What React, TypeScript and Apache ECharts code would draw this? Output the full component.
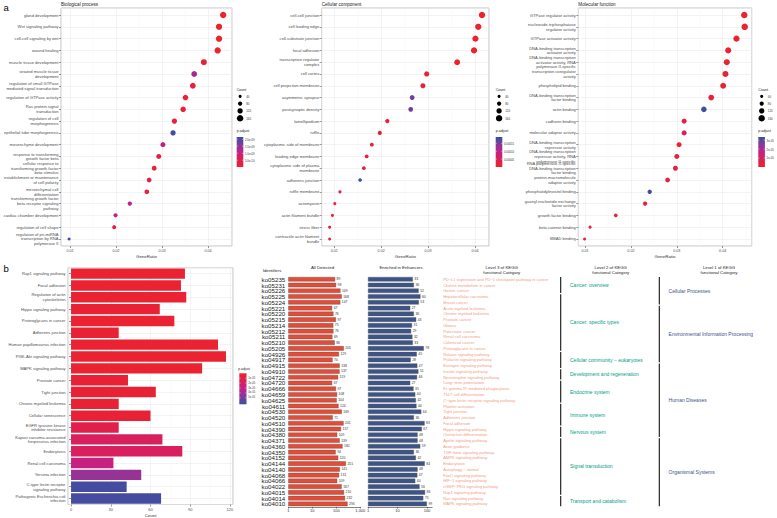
import React, { useEffect, useRef } from "react";
import * as echarts from "echarts";

const FONT = '"Liberation Sans", Arial, Helvetica, sans-serif';
const RAMP = ["#EE2229", "#DB2055", "#C2208A", "#863A99", "#3650A1"];

// ---------------- panel a : GO enrichment ----------------
const bpTerms = [
  "gland development",
  "Wnt signaling pathway",
  "cell-cell signaling by wnt",
  "wound healing",
  "muscle tissue development",
  "striated muscle tissue\ndevelopment",
  "regulation of small GTPase\nmediated signal transduction",
  "regulation of GTPase activity",
  "Ras protein signal\ntransduction",
  "regulation of cell\nmorphogenesis",
  "epithelial tube morphogenesis",
  "mesenchyme development",
  "response to transforming\ngrowth factor beta",
  "cellular response to\ntransforming growth factor\nbeta stimulus",
  "establishment or maintenance\nof cell polarity",
  "mesenchymal cell\ndifferentiation",
  "transforming growth factor\nbeta receptor signaling\npathway",
  "cardiac chamber development",
  "regulation of cell shape",
  "regulation of pri-miRNA\ntranscription by RNA\npolymerase II",
];
const bpRatio = [0.0433, 0.0424, 0.0424, 0.0421, 0.0391, 0.037, 0.0367, 0.0351, 0.0346, 0.0327, 0.0324, 0.0302, 0.0293, 0.0283, 0.0272, 0.0267, 0.023, 0.0199, 0.0196, 0.0098];
const bpCount = [158, 155, 155, 154, 143, 135, 134, 128, 126, 119, 118, 110, 107, 103, 99, 97, 84, 73, 72, 36];
const bpPadj = [5e-11, 5e-11, 6e-11, 1e-10, 2e-10, 1.3e-9, 2.5e-10, 1.5e-10, 2e-10, 3e-10, 2.1e-9, 1.1e-9, 3e-10, 2.5e-10, 3e-10, 3e-10, 1.05e-9, 1.08e-9, 4.5e-10, 2.1e-9];
const bpRange = [2e-11, 2.16e-9];
const bpLegendTicks = [2.0e-9, 1.5e-9, 1.0e-9, 5.0e-10];
const bpLegendLabels = ["2.0e-09", "1.5e-09", "1.0e-09", "5.0e-10"];

const ccTerms = [
  "cell-cell junction",
  "cell leading edge",
  "cell-substrate junction",
  "focal adhesion",
  "transcription regulator\ncomplex",
  "cell cortex",
  "cell projection membrane",
  "asymmetric synapse",
  "postsynaptic density",
  "lamellipodium",
  "ruffle",
  "cytoplasmic side of membrane",
  "leading edge membrane",
  "cytoplasmic side of plasma\nmembrane",
  "adherens junction",
  "ruffle membrane",
  "actomyosin",
  "actin filament bundle",
  "stress fiber",
  "contractile actin filament\nbundle",
];
const ccRatio = [0.0415, 0.0407, 0.0401, 0.0398, 0.0362, 0.0297, 0.0289, 0.0266, 0.0263, 0.0213, 0.0197, 0.018, 0.0169, 0.0163, 0.0155, 0.0112, 0.0101, 0.0096, 0.009, 0.009];
const ccCount = [158, 155, 152, 151, 138, 113, 110, 101, 100, 81, 75, 68, 64, 62, 59, 43, 38, 36, 34, 34];
const ccPadj = [2e-6, 2e-6, 3e-6, 3e-6, 5e-6, 1.2e-5, 1.5e-5, 1.55e-4, 1.55e-4, 1.5e-5, 1.5e-5, 1.8e-5, 2e-5, 2.5e-5, 1.85e-4, 2e-5, 2e-5, 2e-5, 2e-5, 2e-5];
const ccRange = [0, 1.9e-4];
const ccLegendTicks = [1.5e-4, 1.0e-4, 5e-5];
const ccLegendLabels = ["0.00015", "0.00010", "0.00005"];

const mfTerms = [
  "GTPase regulator activity",
  "nucleoside-triphosphatase\nregulator activity",
  "GTPase activator activity",
  "DNA-binding transcription\nactivator activity",
  "DNA-binding transcription\nactivator activity, RNA\npolymerase II-specific",
  "transcription coregulator\nactivity",
  "phospholipid binding",
  "DNA-binding transcription\nfactor binding",
  "actin binding",
  "cadherin binding",
  "molecular adaptor activity",
  "DNA-binding transcription\nrepressor activity",
  "DNA-binding transcription\nrepressor activity, RNA\npolymerase II-specific",
  "RNA polymerase II-specific\nDNA-binding transcription\nfactor binding",
  "protein-macromolecule\nadaptor activity",
  "phosphatidylinositol binding",
  "guanyl-nucleotide exchange\nfactor activity",
  "growth factor binding",
  "beta-catenin binding",
  "SMAD binding",
];
const mfRatio = [0.0447, 0.0448, 0.043, 0.0412, 0.0409, 0.0406, 0.0401, 0.0375, 0.0359, 0.0316, 0.0316, 0.0305, 0.03, 0.0297, 0.028, 0.0241, 0.0231, 0.0167, 0.0111, 0.0099];
const mfCount = [159, 159, 153, 146, 145, 144, 142, 133, 127, 112, 112, 108, 107, 105, 99, 86, 82, 59, 39, 35];
const mfPadj = [1e-6, 1e-6, 1.5e-6, 2e-6, 2e-6, 2e-6, 2.5e-6, 3e-6, 3.3e-5, 4e-6, 1.0e-5, 3e-6, 3e-6, 3e-6, 4e-6, 3.2e-5, 4e-6, 4e-6, 4e-6, 4e-6];
const mfRange = [0, 3.35e-5];
const mfLegendTicks = [3e-5, 2e-5, 1e-5];
const mfLegendLabels = ["3e-05", "2e-05", "1e-05"];

const countLegend = [40, 80, 120, 160];

// ---------------- panel b : KEGG ----------------
const keggTerms = [
  "Rap1 signaling pathway",
  "Focal adhesion",
  "Regulation of actin\ncytoskeleton",
  "Hippo signaling pathway",
  "Proteoglycans in cancer",
  "Adherens junction",
  "Human papillomavirus infection",
  "PI3K-Akt signaling pathway",
  "MAPK signaling pathway",
  "Prostate cancer",
  "Tight junction",
  "Chronic myeloid leukemia",
  "Cellular senescence",
  "EGFR tyrosine kinase\ninhibitor resistance",
  "Kaposi sarcoma-associated\nherpesvirus infection",
  "Endocytosis",
  "Renal cell carcinoma",
  "Yersinia infection",
  "C-type lectin receptor\nsignaling pathway",
  "Pathogenic Escherichia coli\ninfection",
];
const keggCount = [86, 83, 87, 67, 78, 36, 111, 117, 99, 43, 64, 36, 60, 36, 69, 84, 32, 53, 42, 68];
const keggPadj = [3e-6, 3e-6, 3e-6, 4e-6, 3e-6, 4e-6, 3e-6, 3e-6, 3e-6, 4e-6, 4e-6, 4e-6, 5e-6, 1.2e-5, 1.8e-5, 1.8e-5, 2.8e-5, 4.3e-5, 6.0e-5, 6.0e-5];
const keggRange = [0, 6.3e-5];
const keggLegendTicks = [1e-5, 2e-5, 3e-5, 4e-5, 5e-5];
const keggLegendLabels = ["1e-05", "2e-05", "3e-05", "4e-05", "5e-05"];

const koIds = [
  "ko05235", "ko05231", "ko05226", "ko05225", "ko05224", "ko05221", "ko05220", "ko05215", "ko05214", "ko05212",
  "ko05211", "ko05210", "ko05205", "ko04926", "ko04917", "ko04915", "ko04910", "ko04722", "ko04720", "ko04666",
  "ko04659", "ko04625", "ko04611", "ko04530", "ko04520", "ko04510", "ko04390", "ko04380", "ko04371", "ko04360",
  "ko04350", "ko04152", "ko04144", "ko04140", "ko04068", "ko04066", "ko04022", "ko04015", "ko04014", "ko04010",
];
const allDetected = [89, 98, 149, 168, 147, 67, 76, 97, 75, 76, 69, 86, 205, 129, 70, 138, 137, 119, 67, 97, 108, 104, 124, 169, 71, 201, 157, 109, 139, 182, 94, 120, 251, 141, 131, 109, 167, 210, 232, 294];
const enrichedInEnhancers = [33, 36, 52, 60, 53, 27, 36, 43, 31, 29, 32, 33, 78, 45, 28, 47, 51, 46, 27, 35, 40, 42, 44, 64, 36, 83, 67, 48, 48, 59, 36, 42, 84, 48, 47, 40, 56, 86, 75, 99];
const level3Terms = [
  "PD\u2212L1 expression and PD\u22121 checkpoint pathway in cancer",
  "Choline metabolism in cancer",
  "Gastric cancer",
  "Hepatocellular carcinoma",
  "Breast cancer",
  "Acute myeloid leukemia",
  "Chronic myeloid leukemia",
  "Prostate cancer",
  "Glioma",
  "Pancreatic cancer",
  "Renal cell carcinoma",
  "Colorectal cancer",
  "Proteoglycans in cancer",
  "Relaxin signaling pathway",
  "Prolactin signaling pathway",
  "Estrogen signaling pathway",
  "Insulin signaling pathway",
  "Neurotrophin signaling pathway",
  "Long\u2212term potentiation",
  "Fc gamma R\u2212mediated phagocytosis",
  "Th17 cell differentiation",
  "C\u2212type lectin receptor signaling pathway",
  "Platelet activation",
  "Tight junction",
  "Adherens junction",
  "Focal adhesion",
  "Hippo signaling pathway",
  "Osteoclast differentiation",
  "Apelin signaling pathway",
  "Axon guidance",
  "TGF\u2212beta signaling pathway",
  "AMPK signaling pathway",
  "Endocytosis",
  "Autophagy \u2212 animal",
  "FoxO signaling pathway",
  "HIF\u22121 signaling pathway",
  "cGMP\u2212PKG signaling pathway",
  "Rap1 signaling pathway",
  "Ras signaling pathway",
  "MAPK signaling pathway",
];
const level2Names = [
  "Cancer: overview",
  "Cancer: specific types",
  "Cellular community \u2212 eukaryotes",
  "Development and regeneration",
  "Endocrine system",
  "Immune system",
  "Nervous system",
  "Signal transduction",
  "Transport and catabolism",
];
const level2Sizes = [3, 10, 3, 2, 4, 4, 2, 10, 2];
const level1Names = ["Cellular Processes", "Environmental Information Processing", "Human Diseases", "Organismal Systems"];
const level1Sizes = [5, 10, 13, 12];

// ---------------- layout ----------------
const sz = (c: number) => 2 + c * 0.028;
const A_TOP = 8;
const A_H = 238;
const aPanels = [
  { left: 61, width: 171, xmin: 0.00804, xmax: 0.04522, title: "Biological process", legX: 236.7,
    terms: bpTerms, ratio: bpRatio, count: bpCount, padj: bpPadj, range: bpRange, ticks: bpLegendTicks, labels: bpLegendLabels },
  { left: 321.7, width: 167.3, xmin: 0.00731, xmax: 0.04299, title: "Cellular component", legX: 495.7,
    terms: ccTerms, ratio: ccRatio, count: ccCount, padj: ccPadj, range: ccRange, ticks: ccLegendTicks, labels: ccLegendLabels },
  { left: 578.3, width: 173.4, xmin: 0.00854, xmax: 0.04632, title: "Molecular function", legX: 758.3,
    terms: mfTerms, ratio: mfRatio, count: mfCount, padj: mfPadj, range: mfRange, ticks: mfLegendTicks, labels: mfLegendLabels },
];
const T_TOP = 276.4;
const T_H = 230.4;
const ROW_H = T_H / koIds.length;
const L2X = 560.7;
const L1X = 659.3;

const GRID_LINE = "#EBEBEB";
const MINOR_LINE = "#F5F5F5";
const BORDER = "#A8A8A8";
const AXIS_TXT = "#4D4D4D";

function txt(x: number, y: number, text: string, size: number, fill = "#333", align = "left", vAlign = "middle", extra: any = {}) {
  return { type: "text", x, y, silent: true, style: { text, fontSize: size, fontFamily: FONT, fill, align, verticalAlign: vAlign, ...extra } };
}

function gradient(reverse: boolean) {
  const cols = reverse ? [...RAMP].reverse() : RAMP;
  return new echarts.graphic.LinearGradient(0, 0, 0, 1, cols.map((c, i) => ({ offset: i / (cols.length - 1), color: c })));
}

function buildOption() {
  const grid: any[] = [];
  const xAxis: any[] = [];
  const yAxis: any[] = [];
  const series: any[] = [];
  const visualMap: any[] = [];
  const graphic: any[] = [];

  const tick = { show: true, length: 2, lineStyle: { color: "#333", width: 0.5 } };

  aPanels.forEach((p, i) => {
    grid.push({ left: p.left, top: A_TOP, width: p.width, height: A_H, show: true, borderColor: BORDER, borderWidth: 0.7 });
    xAxis.push({
      type: "value", gridIndex: i, min: p.xmin, max: p.xmax, minInterval: 0.01, maxInterval: 0.01,
      axisLine: { show: false }, axisTick: tick,
      axisLabel: { fontSize: 3.7, color: AXIS_TXT, margin: 2.5, fontFamily: FONT, showMinLabel: false, showMaxLabel: false,
        formatter: (v: number) => v.toFixed(2) },
      splitLine: { show: true, lineStyle: { color: GRID_LINE, width: 0.6 } },
      minorTick: { show: false, splitNumber: 2 },
      minorSplitLine: { show: true, lineStyle: { color: MINOR_LINE, width: 0.4 } },
      name: "GeneRatio", nameLocation: "middle", nameGap: 8.5,
      nameTextStyle: { fontSize: 4.4, color: "#333", fontFamily: FONT },
    });
    const terms = p.terms;
    yAxis.push({
      type: "value", gridIndex: i, min: 0.4, max: 20.6, inverse: true, minInterval: 1, maxInterval: 1,
      axisLine: { show: false }, axisTick: tick,
      axisLabel: { fontSize: 4.1, lineHeight: 4.7, color: AXIS_TXT, margin: 2.5, fontFamily: FONT, showMinLabel: false, showMaxLabel: false,
        formatter: (v: number) => terms[Math.round(v) - 1] ?? "" },
      splitLine: { show: true, lineStyle: { color: GRID_LINE, width: 0.6 } },
    });
    series.push({
      type: "scatter", xAxisIndex: i, yAxisIndex: i,
      data: p.ratio.map((r, k) => [r, k + 1, p.count[k], p.padj[k]]),
      symbolSize: (d: any) => sz(d[2]),
      itemStyle: { opacity: 1 },
    });
    visualMap.push({ type: "continuous", show: false, seriesIndex: i, dimension: 3, min: p.range[0], max: p.range[1], inRange: { color: [...RAMP] } });

    // panel title
    graphic.push(txt(p.left, 4.3, p.title, 4.6, "#222"));
    // count legend
    const lx = p.legX;
    graphic.push(txt(lx, 90, "Count", 3.6, "#222"));
    countLegend.forEach((c, k) => {
      const y = 96.3 + k * 7.3;
      graphic.push({ type: "circle", silent: true, shape: { cx: lx + 3.4, cy: y, r: sz(c) / 2 }, style: { fill: "#000" } });
      graphic.push(txt(lx + 9.5, y, String(c), 2.9, "#333"));
    });
    // colour bar
    const cbTop = 137, cbH = 30;
    graphic.push(txt(lx, 131, "p.adjust", 3.6, "#222"));
    graphic.push({ type: "rect", silent: true, shape: { x: lx, y: cbTop, width: 6.6, height: cbH }, style: { fill: gradient(true) } });
    p.ticks.forEach((t, k) => {
      const y = cbTop + cbH - ((t - p.range[0]) / (p.range[1] - p.range[0])) * cbH;
      graphic.push({ type: "line", silent: true, shape: { x1: lx, y1: y, x2: lx + 1.3, y2: y }, style: { stroke: "#fff", lineWidth: 0.4 } });
      graphic.push({ type: "line", silent: true, shape: { x1: lx + 5.3, y1: y, x2: lx + 6.6, y2: y }, style: { stroke: "#fff", lineWidth: 0.4 } });
      graphic.push(txt(lx + 8.3, y, p.labels[k], 2.8, "#333"));
    });
  });

  // ---- panel b bar chart (grid 3)
  grid.push({ left: 68, top: 267.7, width: 165, height: 238, show: true, borderColor: BORDER, borderWidth: 0.7 });
  xAxis.push({
    type: "value", gridIndex: 3, min: -2.3, max: 122.3, minInterval: 30, maxInterval: 30,
    axisLine: { show: false }, axisTick: tick,
    axisLabel: { fontSize: 4, color: AXIS_TXT, margin: 2.5, fontFamily: FONT, showMinLabel: false, showMaxLabel: false },
    splitLine: { show: true, lineStyle: { color: GRID_LINE, width: 0.6 } },
    minorTick: { show: false, splitNumber: 2 },
    minorSplitLine: { show: true, lineStyle: { color: MINOR_LINE, width: 0.4 } },
    name: "Count", nameLocation: "middle", nameGap: 8.5,
    nameTextStyle: { fontSize: 4.4, color: "#333", fontFamily: FONT },
  });
  yAxis.push({
    type: "category", gridIndex: 3, data: keggTerms, inverse: true,
    axisLine: { show: false }, axisTick: { ...tick, alignWithLabel: true },
    axisLabel: { interval: 0, fontSize: 4.1, lineHeight: 4.7, color: AXIS_TXT, margin: 2.5, fontFamily: FONT },
    splitLine: { show: false },
  });
  yAxis.push({
    type: "value", gridIndex: 3, position: "right", min: 0.5, max: 20.5, inverse: true, minInterval: 1, maxInterval: 1,
    axisLine: { show: false }, axisTick: { show: false }, axisLabel: { show: false },
    splitLine: { show: true, lineStyle: { color: GRID_LINE, width: 0.6 } },
  });
  series.push({
    type: "bar", xAxisIndex: 3, yAxisIndex: 3, barWidth: "88%",
    data: keggCount.map((c, i) => [c, i, keggPadj[i]]),
    encode: { x: 0, y: 1 },
  });
  visualMap.push({ type: "continuous", show: false, seriesIndex: 3, dimension: 2, min: keggRange[0], max: keggRange[1], inRange: { color: [...RAMP] } });

  // legend of panel b
  {
    const lx = 239.3, top = 373.3, h = 31;
    graphic.push(txt(238.3, 369.3, "p.adjust", 3.3, "#222"));
    graphic.push({ type: "rect", silent: true, shape: { x: lx, y: top, width: 7.2, height: h }, style: { fill: gradient(false) } });
    keggLegendTicks.forEach((t, k) => {
      const y = top + ((t - keggRange[0]) / (keggRange[1] - keggRange[0])) * h;
      graphic.push({ type: "line", silent: true, shape: { x1: lx, y1: y, x2: lx + 1.4, y2: y }, style: { stroke: "#fff", lineWidth: 0.4 } });
      graphic.push({ type: "line", silent: true, shape: { x1: lx + 5.8, y1: y, x2: lx + 7.2, y2: y }, style: { stroke: "#fff", lineWidth: 0.4 } });
      graphic.push(txt(lx + 9, y, keggLegendLabels[k], 2.7, "#333"));
    });
  }

  // ---- table: All detected (grid 4) and Enriched (grid 5)
  grid.push({ left: 288.3, top: T_TOP, width: 72, height: T_H });
  grid.push({ left: 368, top: T_TOP, width: 64.2, height: T_H });
  const logX = (gi: number, max: number) => ({
    type: "log", logBase: 10, gridIndex: gi, min: 1, max,
    axisLine: { show: true, lineStyle: { color: "#333", width: 0.6 } },
    axisTick: { show: true, length: 1.8, lineStyle: { color: "#333", width: 0.5 } },
    axisLabel: { fontSize: 4, color: "#333", margin: 2, fontFamily: FONT, showMaxLabel: max === 1000 },
    splitLine: { show: false },
  });
  xAxis.push(logX(4, 1000));
  xAxis.push(logX(5, 150));
  yAxis.push({
    type: "category", gridIndex: 4, data: koIds, inverse: true,
    axisLine: { show: false }, axisTick: { show: false },
    axisLabel: { interval: 0, fontSize: 6.2, color: "#222", margin: 3, fontFamily: FONT },
  });
  yAxis.push({
    type: "category", gridIndex: 5, data: koIds, inverse: true,
    axisLine: { show: false }, axisTick: { show: false }, axisLabel: { show: false },
  });
  yAxis.push({
    type: "category", gridIndex: 5, data: level3Terms, inverse: true, position: "right",
    axisLine: { show: false }, axisTick: { show: false },
    axisLabel: { interval: 0, fontSize: 4, color: "#F39B7F", margin: 11, fontFamily: FONT },
  });
  const barLabel = { show: true, position: "right", fontSize: 3.4, color: "#333", distance: 1.5, fontFamily: FONT };
  series.push({
    type: "bar", xAxisIndex: 4, yAxisIndex: 5, data: allDetected, barCategoryGap: "22%",
    itemStyle: { color: "#E64B35", borderColor: "#555", borderWidth: 0.4 }, label: barLabel,
  });
  series.push({
    type: "bar", xAxisIndex: 5, yAxisIndex: 6, data: enrichedInEnhancers, barCategoryGap: "22%",
    itemStyle: { color: "#3C5488", borderColor: "#555", borderWidth: 0.4 }, label: barLabel,
  });

  // headers
  graphic.push(txt(272, 270.6, "Identifiers", 4.3, "#222", "center"));
  graphic.push(txt(322.5, 267.8, "All Detected", 4.3, "#222", "center"));
  graphic.push(txt(401, 267.8, "Enriched in Enhancers", 4.3, "#222", "center"));
  const hdr = (x: number, n: number) => txt(x, 270, `Level ${n} of KEGG\nfunctional Category`, 4.3, "#222", "center", "middle", { lineHeight: 4.6 });
  graphic.push(hdr(501.7, 3));
  graphic.push(hdr(610.7, 2));
  graphic.push(hdr(719, 1));

  // level 2 / level 1 brackets
  const brackets = (names: string[], sizes: number[], x: number, color: string) => {
    let start = 0;
    names.forEach((n, k) => {
      const end = start + sizes[k];
      const y1 = T_TOP + start * ROW_H + 0.6;
      const y2 = T_TOP + end * ROW_H - 0.6;
      graphic.push({ type: "line", silent: true, shape: { x1: x, y1, x2: x, y2 }, style: { stroke: "#111", lineWidth: 1.1 } });
      graphic.push(txt(x + 9.3, T_TOP + ((start + end) / 2) * ROW_H, n, 5, color));
      start = end;
    });
  };
  brackets(level2Names, level2Sizes, L2X, "#00A087");
  brackets(level1Names, level1Sizes, L1X, "#3C5488");

  // panel letters
  graphic.push(txt(3.5, 7, "a", 9.5, "#000"));
  graphic.push(txt(3.5, 268.5, "b", 9.5, "#000"));

  return {
    animation: false,
    textStyle: { fontFamily: FONT },
    grid, xAxis, yAxis, series, visualMap,
    graphic: { elements: graphic },
  };
}

export default function App() {
  const ref = useRef<HTMLDivElement>(null);
  useEffect(() => {
    if (!ref.current) return;
    const chart = echarts.init(ref.current, null, { renderer: "svg" });
    chart.setOption(buildOption() as any);
    return () => chart.dispose();
  }, []);
  return (
    <div
      ref={ref}
      style={{ position: "fixed", left: 0, top: 0, width: 777, height: 518, background: "#fff" }}
    />
  );
}
